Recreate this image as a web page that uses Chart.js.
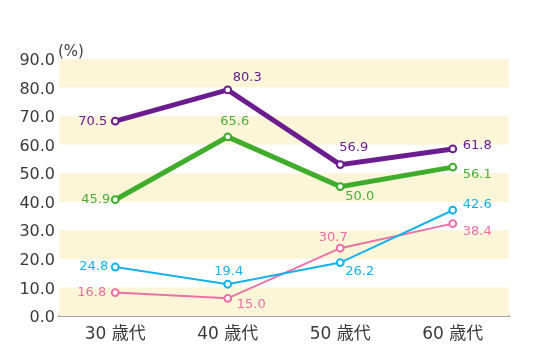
<!DOCTYPE html>
<html>
<head>
<meta charset="utf-8">
<script src="https://cdn.jsdelivr.net/npm/chart.js@4.4.1/dist/chart.umd.min.js"></script>
<style>
  body { margin: 0; background: #fff; }
</style>
</head>
<body>
<canvas id="myChart" width="554" height="345"></canvas>
<script>
var categories = ['30 歳代', '40 歳代', '50 歳代', '60 歳代'];
var purpleVals = [70.5, 80.3, 56.9, 61.8];
var greenVals = [45.9, 65.6, 50.0, 56.1];
var blueVals = [24.8, 19.4, 26.2, 42.6];
var pinkVals = [16.8, 15.0, 30.7, 38.4];
var yTickLabels = ['0.0', '10.0', '20.0', '30.0', '40.0', '50.0', '60.0', '70.0', '80.0', '90.0'];

// the picture's axis is not drawn to its own tick labels: the bottom tick sits near 9.45
var yAxisMin = 9.45;
var yAxisMax = 90;

var FONT = '"DejaVu Sans", "Noto Sans CJK JP", sans-serif';

// background bands + "(%)"
var bandsPlugin = {
    id: 'bands',
    beforeDatasetsDraw: function(chart) {
        var ctx = chart.ctx;
        var ys = chart.scales.y;
        var area = chart.chartArea;
        ctx.save();
        ctx.fillStyle = '#fdf5d8';
        for (var i = 0; i + 1 < ys.ticks.length; i += 2) {
            var top = ys.getPixelForValue(ys.ticks[i + 1].value);
            var bot = ys.getPixelForValue(ys.ticks[i].value);
            ctx.fillRect(area.left, top, area.right - area.left, bot - top);
        }
        ctx.restore();
    },
    afterDraw: function(chart) {
        var ctx = chart.ctx;
        var area = chart.chartArea;
        ctx.save();
        ctx.font = '15px ' + FONT;
        ctx.fillStyle = '#3c3c3c';
        ctx.textAlign = 'left';
        ctx.textBaseline = 'alphabetic';
        ctx.fillText('(%)', area.left - 1, area.top - 3);
        ctx.restore();
    }
};

// value labels next to each point
var valueLabels = {
    id: 'valueLabels',
    afterDatasetsDraw: function(chart) {
        var ctx = chart.ctx;
        ctx.save();
        ctx.font = '13px ' + FONT;
        ctx.textBaseline = 'middle';
        chart.data.datasets.forEach(function(ds, di) {
            var meta = chart.getDatasetMeta(di);
            ctx.fillStyle = ds.labelColor;
            meta.data.forEach(function(pt, i) {
                ctx.textAlign = ds.labelAlign[i];
                ctx.fillText(ds.data[i].toFixed(1), pt.x + ds.labelDx[i], pt.y + ds.labelDy[i]);
            });
        });
        ctx.restore();
    }
};

function series(vals, color, lblColor, width, align, dx, dy) {
    return {
        data: vals,
        borderColor: color,
        borderWidth: width,
        pointBackgroundColor: '#fff',
        pointBorderColor: color,
        pointBorderWidth: 2,
        pointRadius: 3.4,
        tension: 0,
        labelColor: lblColor,
        labelAlign: align,
        labelDx: dx,
        labelDy: dy
    };
}

var ctx = document.getElementById('myChart').getContext('2d');
var chart = new Chart(ctx, {
    type: 'line',
    data: {
        labels: categories,
        datasets: [
            series(purpleVals, '#6b1c8f', '#6b1c8f', 5,
                ['right', 'left', 'left', 'left'], [-8, 5, -1, 10], [0, -12, -17, -3]),
            series(greenVals, '#40ac2c', '#4caf3a', 5,
                ['right', 'center', 'left', 'left'], [-5, 7, 5, 10], [0, -15, 10, 7]),
            series(blueVals, '#14b1ec', '#14b1ec', 2,
                ['right', 'center', 'left', 'left'], [-7, 1, 5, 10], [0, -13, 9, -6]),
            series(pinkVals, '#ec6fa6', '#ec6fa6', 2,
                ['right', 'left', 'center', 'left'], [-9, 9, -7, 10], [0, 6, -11, 8])
        ]
    },
    options: {
        responsive: false,
        animation: false,
        layout: { padding: { top: 59, right: 45, left: 0, bottom: 0 } },
        plugins: {
            legend: { display: false },
            tooltip: { enabled: false }
        },
        scales: {
            x: {
                offset: true,
                grid: { display: false, drawTicks: false },
                border: { display: true, color: '#a3a3a3', width: 2 },
                ticks: { color: '#3a3a3a', font: { family: FONT, size: 17 }, padding: 8 },
                afterFit: function(scale) { scale.height = 29; }
            },
            y: {
                min: yAxisMin,
                max: yAxisMax,
                grid: { display: false, drawTicks: false },
                border: { display: false },
                afterBuildTicks: function(scale) {
                    var step = (yAxisMax - yAxisMin) / (yTickLabels.length - 1);
                    scale.ticks = yTickLabels.map(function(t, i) {
                        return { value: yAxisMin + i * step };
                    });
                },
                ticks: {
                    color: '#3a3a3a',
                    font: { family: FONT, size: 16 },
                    padding: 4,
                    labelOffset: 2,
                    callback: function(v, i) { return yTickLabels[i]; }
                },
                afterFit: function(scale) { scale.width = 59; }
            }
        }
    },
    plugins: [bandsPlugin, valueLabels]
});
</script>
</body>
</html>
